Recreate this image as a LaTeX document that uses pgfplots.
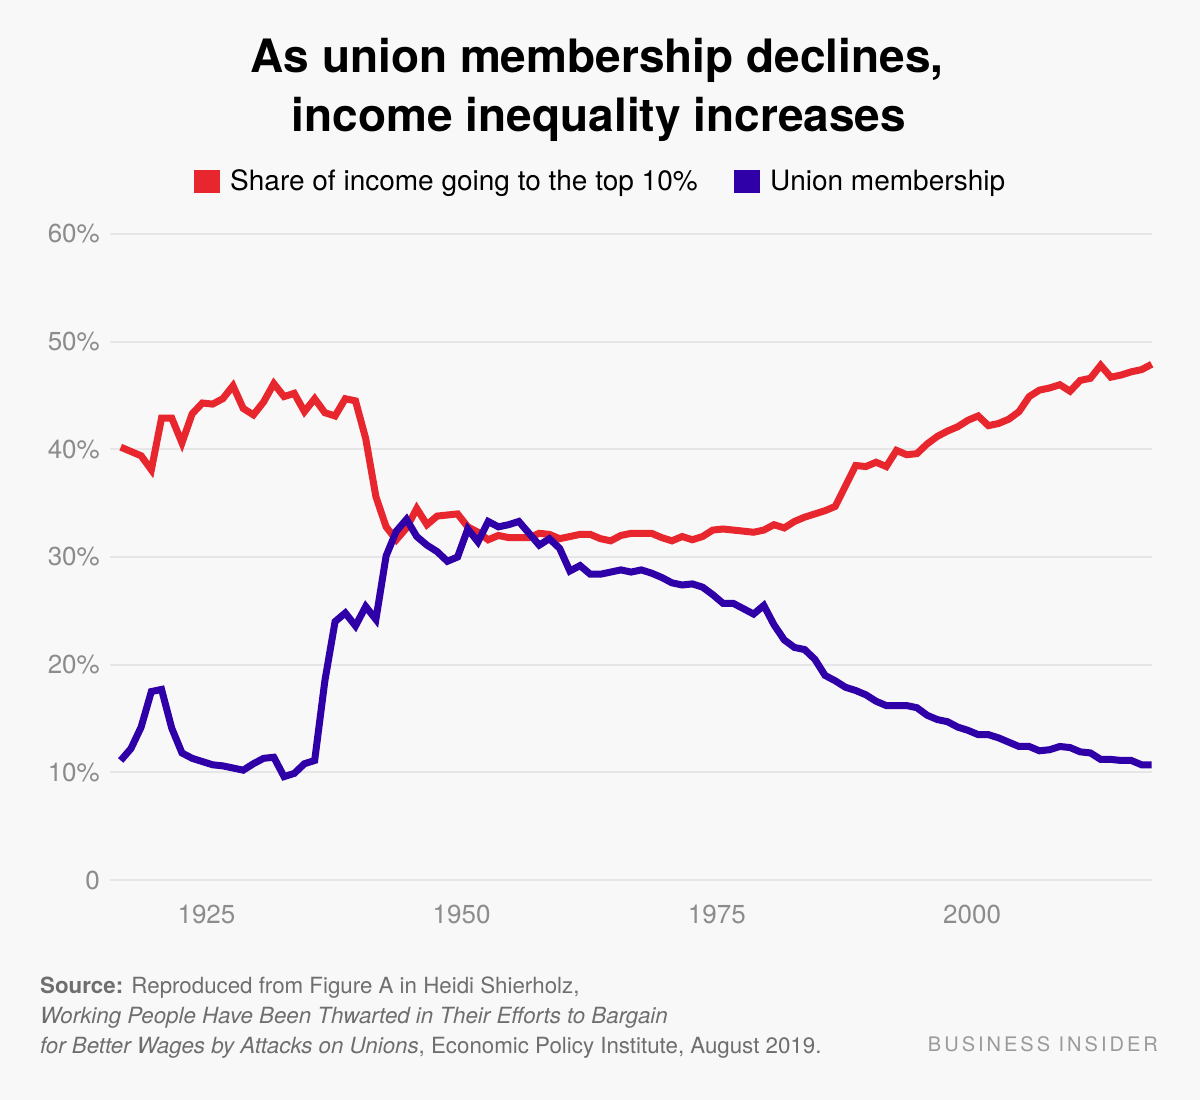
\documentclass[border=0pt]{standalone}
\usepackage{fontspec}
\setmainfont{TeX Gyre Heros}
\usepackage{pgfplots}
\usepackage{pgfplotstable}
\pgfplotsset{compat=1.18}
\definecolor{bg}{HTML}{F8F8F8}
\definecolor{topred}{HTML}{E8262E}
\definecolor{unionblue}{HTML}{2F00A8}
\definecolor{gridgray}{HTML}{E6E6E6}
\definecolor{tickgray}{HTML}{8C8C8C}
\definecolor{srcgray}{HTML}{6E6E6E}
\definecolor{logogray}{HTML}{9A9A9A}

\pgfplotstableread{
year top union
1917 40.2 11.1
1918 39.8 12.2
1919 39.4 14.2
1920 38.1 17.5
1921 42.9 17.7
1922 42.9 14.1
1923 40.6 11.8
1924 43.3 11.3
1925 44.3 11.0
1926 44.2 10.7
1927 44.7 10.6
1928 45.9 10.4
1929 43.8 10.2
1930 43.2 10.8
1931 44.4 11.3
1932 46.1 11.4
1933 44.9 9.6
1934 45.2 9.9
1935 43.5 10.8
1936 44.7 11.1
1937 43.4 18.5
1938 43.1 24.0
1939 44.7 24.8
1940 44.5 23.6
1941 41.0 25.4
1942 35.6 24.2
1943 32.8 30.1
1944 31.6 32.4
1945 32.7 33.5
1946 34.5 31.9
1947 33.0 31.1
1948 33.8 30.5
1949 33.9 29.6
1950 34.0 30.0
1951 32.8 32.6
1952 32.3 31.4
1953 31.6 33.3
1954 32.0 32.8
1955 31.8 33.0
1956 31.8 33.3
1957 31.8 32.2
1958 32.2 31.1
1959 32.1 31.7
1960 31.7 30.8
1961 31.9 28.7
1962 32.1 29.2
1963 32.1 28.4
1964 31.7 28.4
1965 31.5 28.6
1966 32.0 28.8
1967 32.2 28.6
1968 32.2 28.8
1969 32.2 28.5
1970 31.8 28.1
1971 31.5 27.6
1972 31.9 27.4
1973 31.6 27.5
1974 31.9 27.2
1975 32.5 26.5
1976 32.6 25.7
1977 32.5 25.7
1978 32.4 25.2
1979 32.3 24.7
1980 32.5 25.5
1981 33.0 23.7
1982 32.7 22.3
1983 33.3 21.6
1984 33.7 21.4
1985 34.0 20.5
1986 34.3 19.0
1987 34.7 18.5
1988 36.6 17.9
1989 38.5 17.6
1990 38.4 17.2
1991 38.8 16.6
1992 38.4 16.2
1993 39.9 16.2
1994 39.5 16.2
1995 39.6 16.0
1996 40.5 15.3
1997 41.2 14.9
1998 41.7 14.7
1999 42.1 14.2
2000 42.7 13.9
2001 43.1 13.5
2002 42.2 13.5
2003 42.4 13.2
2004 42.8 12.8
2005 43.5 12.4
2006 44.9 12.4
2007 45.5 12.0
2008 45.7 12.1
2009 46.0 12.4
2010 45.4 12.3
2011 46.4 11.9
2012 46.6 11.8
2013 47.8 11.2
2014 46.7 11.2
2015 46.9 11.1
2016 47.2 11.1
2017 47.4 10.7
2018 47.9 10.7
}\datatable

\begin{document}
\begin{tikzpicture}[x=1pt,y=1pt]
\useasboundingbox (0,0) rectangle (1200,1100);
\fill[bg] (0,0) rectangle (1200,1100);

% title
\node[anchor=base, inner sep=0pt, font=\fontsize{46}{50}\selectfont\bfseries] at (597,1027) {As union membership declines,};
\node[anchor=base, inner sep=0pt, font=\fontsize{46}{50}\selectfont\bfseries] at (599,968) {income inequality increases};

% legend
\fill[topred] (194,907) rectangle (220,930);
\node[anchor=base west, inner sep=0pt, font=\fontsize{28}{30}\selectfont] at (230,909) {Share of income going to the top 10\%};
\fill[unionblue] (734,907) rectangle (760,930);
\node[anchor=base west, inner sep=0pt, font=\fontsize{28}{30}\selectfont] at (770,909) {Union membership};

\begin{axis}[
  at={(110pt,220pt)}, anchor=south west,
  scale only axis, width=1042pt, height=646pt,
  xmin=1915.95, xmax=2018.03, ymin=0, ymax=60,
  axis line style={draw=none},
  major tick length=0pt,
  ytick={0,10,20,30,40,50,60},
  yticklabels={0,10\%,20\%,30\%,40\%,50\%,60\%},
  xtick={1925.4,1950.4,1975.4,2000.4},
  xticklabels={1925,1950,1975,2000},
  ymajorgrids, xmajorgrids=false,
  grid style={gridgray, line width=2pt},
  yticklabel style={font=\fontsize{26}{26}\selectfont, text=tickgray, anchor=east, inner sep=0pt, xshift=-10pt},
  xticklabel style={font=\fontsize{26}{26}\selectfont, text=tickgray, anchor=north, inner sep=0pt, yshift=-25pt},
  /pgf/number format/assume math mode=true,
  clip=false,
]
\addplot[topred, line width=7pt, line join=miter] table[x=year, y=top] {\datatable};
\addplot[unionblue, line width=7pt, line join=miter] table[x=year, y=union] {\datatable};
\end{axis}

% source
\node[anchor=base west, inner sep=0pt, text=srcgray, font=\fontsize{22.3}{24}\selectfont] at (40,106) {\textbf{Source:} Reproduced from Figure A in Heidi Shierholz,};
\node[anchor=base west, inner sep=0pt, text=srcgray, font=\fontsize{22.3}{24}\selectfont] at (40,76) {\textit{Working People Have Been Thwarted in Their Efforts to Bargain}};
\node[anchor=base west, inner sep=0pt, text=srcgray, font=\fontsize{22.3}{24}\selectfont] at (40,46) {\textit{for Better Wages by Attacks on Unions}, Economic Policy Institute, August 2019.};
\node[anchor=base east, inner sep=0pt, text=logogray, font=\fontsize{20}{24}\selectfont\addfontfeatures{LetterSpace=15}] at (1158,48) {BUSINESS INSIDER};
\end{tikzpicture}
\end{document}
